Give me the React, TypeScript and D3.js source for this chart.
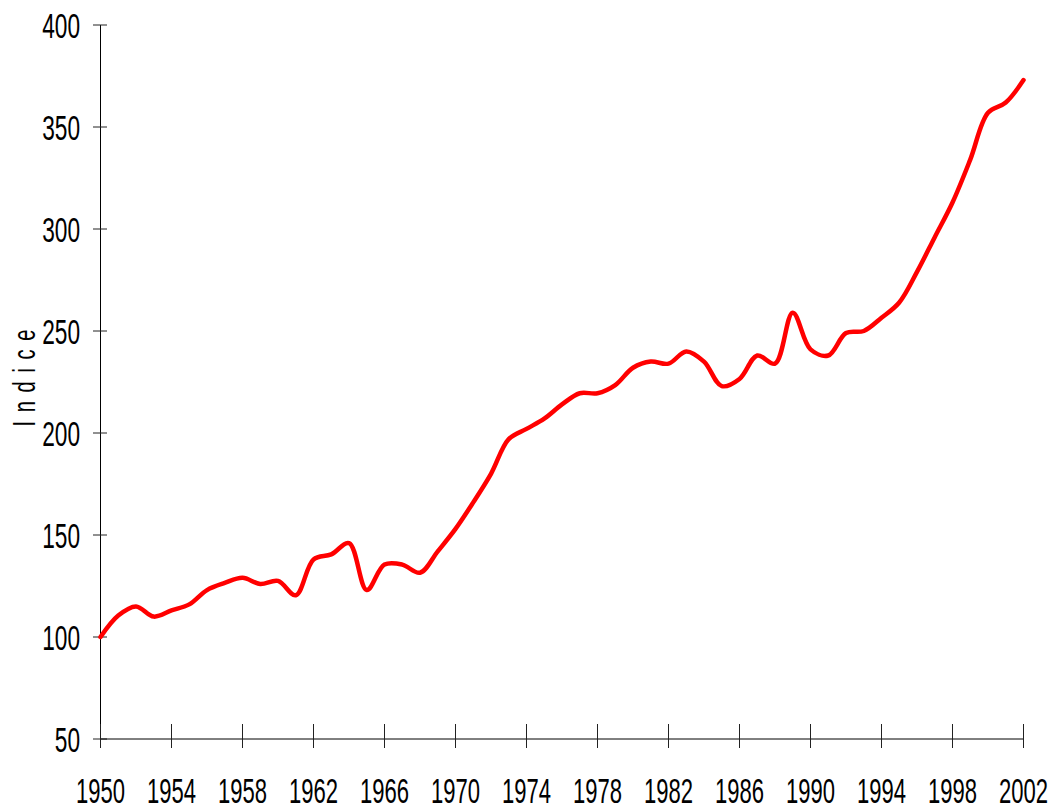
import React from "react";
import * as d3 from "d3";

const years = [
  1950, 1951, 1952, 1953, 1954, 1955, 1956, 1957, 1958, 1959,
  1960, 1961, 1962, 1963, 1964, 1965, 1966, 1967, 1968, 1969,
  1970, 1971, 1972, 1973, 1974, 1975, 1976, 1977, 1978, 1979,
  1980, 1981, 1982, 1983, 1984, 1985, 1986, 1987, 1988, 1989,
  1990, 1991, 1992, 1993, 1994, 1995, 1996, 1997, 1998, 1999,
  2000, 2001, 2002,
];
const indice = [
  100, 110.5, 115, 110, 113, 116, 123, 126.5, 129, 126,
  127.5, 120.5, 138, 140.5, 146, 123, 135.5, 135.5, 131.5, 142,
  153, 166, 180, 197, 202, 207, 214, 219.5, 219.5, 223.5,
  232, 235, 234, 240, 235, 223, 226.5, 238, 234, 259,
  241, 238, 249, 250, 256.5, 264, 279, 296, 313, 334,
  357, 362, 373,
];
const yTicks = [50, 100, 150, 200, 250, 300, 350, 400];
const xTicks = [1950, 1954, 1958, 1962, 1966, 1970, 1974, 1978, 1982, 1986, 1990, 1994, 1998, 2002];
const yTitle = "Indice";

export default function App() {
  const W = 1053;
  const H = 809;
  const x = d3.scaleLinear().domain([1950, 2002]).range([100.5, 1023.5]);
  const y = d3.scaleLinear().domain([50, 400]).range([739, 25]);
  const line = d3
    .line<number>()
    .x((_, i) => x(years[i]))
    .y((d) => y(d))
    .curve(d3.curveCatmullRom.alpha(0.5));
  const font = "'Liberation Sans', Arial, sans-serif";
  const sx = 0.63;
  return (
    <svg
      width={W}
      height={H}
      style={{ position: "absolute", left: 0, top: 0, background: "#fff" }}
      fontFamily={font}
    >
      {/* y axis */}
      <line x1={100.5} x2={100.5} y1={y(400)} y2={y(50)} stroke="#000" strokeWidth={1} />
      {yTicks.map((t) => (
        <g key={"y" + t}>
          <line x1={93} x2={107} y1={y(t)} y2={y(t)} stroke="#222" strokeWidth={1} />
          <text
            transform={`translate(80,${y(t) + 13}) scale(${sx},1)`}
            textAnchor="end"
            fontSize={36}
            fill="#000"
          >
            {t}
          </text>
        </g>
      ))}
      {/* x axis */}
      <line x1={x(1950)} x2={x(2002)} y1={739} y2={739} stroke="#000" strokeWidth={1} />
      {xTicks.map((t) => (
        <g key={"x" + t}>
          <line x1={x(t)} x2={x(t)} y1={724} y2={748} stroke="#222" strokeWidth={1} />
          <text
            transform={`translate(${x(t)},803) scale(${sx},1)`}
            textAnchor="middle"
            fontSize={35}
            fill="#000"
          >
            {t}
          </text>
        </g>
      ))}
      {/* y title */}
      <text
        transform={`translate(35,378) rotate(-90) scale(${sx},1)`}
        textAnchor="middle"
        fontSize={32}
        fill="#000"
        textLength={97 / sx}
        lengthAdjust="spacing"
      >
        {yTitle}
      </text>
      {/* series */}
      <path
        d={line(indice) || ""}
        fill="none"
        stroke="#ff0000"
        strokeWidth={4.5}
        strokeLinejoin="round"
        strokeLinecap="round"
      />
    </svg>
  );
}
